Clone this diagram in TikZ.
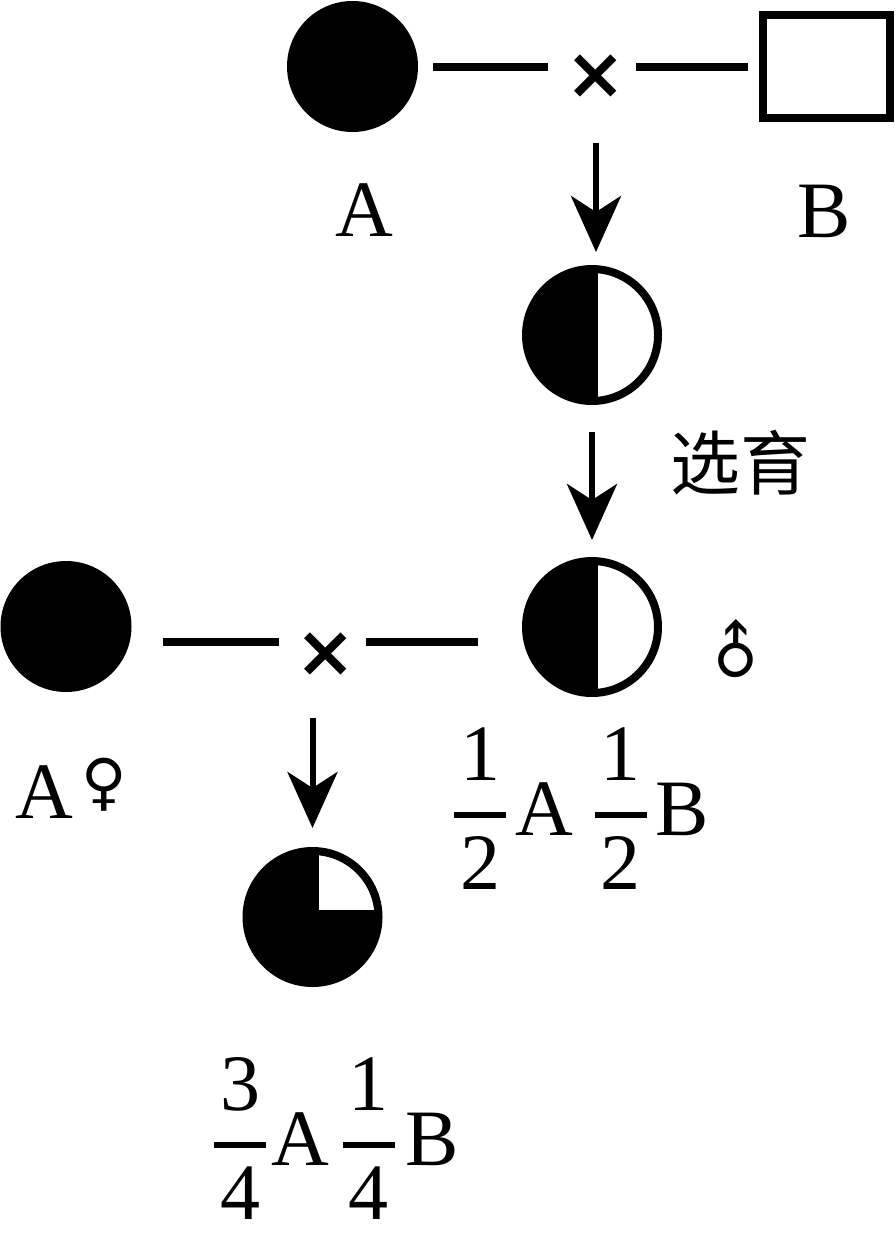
\RequirePackage{fix-cm}
\documentclass[tikz,border=0pt]{standalone}
\usepackage{amsmath}
\usepackage{fontspec}
\setmainfont{Liberation Serif}
\newfontfamily\cjkfont{Noto Sans CJK SC}
\newfontfamily\symfont{DejaVu Sans}
\usetikzlibrary{arrows.meta, positioning}

\newcommand{\fr}[2]{$\genfrac{}{}{5.5pt}{0}{\hbox to 52pt{\hss#1\hss}}{\hbox to 52pt{\hss#2\hss}}$}

\begin{document}
\begin{tikzpicture}[x=1pt, y=-1pt]
	% Define styles
	\tikzset{
		full/.style={circle, fill, minimum size=131pt, inner sep=0pt},
		half/.style={circle, draw, line width=8pt, minimum size=132pt, inner sep=0pt,
			path picture={\fill ([xshift=6pt]path picture bounding box.north) rectangle (path picture bounding box.south west);}},
		quarter/.style={circle, draw, fill, line width=8pt, minimum size=132pt, inner sep=0pt,
			path picture={\fill[white] ([xshift=6pt, yshift=7pt]path picture bounding box.center) rectangle (path picture bounding box.north east);}},
		box/.style={rectangle, draw, line width=8pt, minimum width=127pt, minimum height=103pt, inner sep=0pt},
		cross/.style={font={\symfont\bfseries\fontsize{72}{86}\selectfont}, minimum width=80pt, inner sep=0pt},
		sex/.style={font={\symfont\fontsize{62}{74}\selectfont}, inner sep=0pt},
		lab/.style={anchor=base, inner sep=0pt, font={\fontsize{80}{96}\selectfont}},
		pedline/.style={line width=8pt},
		down/.style={line width=6pt, -{Stealth[length=56pt, width=50pt, inset=16pt]}}
	}
	\useasboundingbox (0,0) rectangle (895,1242);
	
	% Parents
	\node[full] (pA) at (352.5,66.5) {};
	\node[cross] (x1) at (596,77) {×};
	\node[box] (pB) at (826.5,66.5) {};
	\node[lab] (lA) at (364,236) {A};
	\node[lab] (lB) at (824,237) {B};
	
	% F1 and selection
	\node[half] (f1) at (592,335) {};
	\node[font={\cjkfont\fontsize{70}{84}\selectfont}, inner sep=0pt] (sel) at (740,463) {选育};
	\node[half] (f1s) at (592,627) {};
	\node[sex, rotate=45] (male) at (736,652) {♂};
	
	% Backcross
	\node[full] (pA2) at (66,626.5) {};
	\node[cross] (x2) at (326,655) {×};
	\node[lab, anchor=base west] (lA2) at (15,818) {A};
	\node[sex] (fem) at (104,785) {♀};
	\node[lab, anchor=base west] (r1) at (453,835) {\fr{1}{2}\kern8pt A\kern20pt\fr{1}{2}\kern8pt B};
	\node[quarter] (f2) at (312.5,917) {};
	\node[lab, anchor=base west] (r2) at (213,1165) {\fr{3}{4}\kern4pt A\kern12pt\fr{1}{4}\kern10pt B};
	
	% Lines
	\draw[pedline, shorten <=15pt, shorten >=8pt] (pA.east) -- (pA.east -| x1.west);
	\draw[pedline, shorten >=11pt] (x1.east |- pB.west) -- (pB.west);
	\coordinate (m) at ([yshift=-15.5pt]pA2.east);
	\draw[pedline, shorten <=31pt, shorten >=7pt] (m) -- (m -| x2.west);
	\draw[pedline, shorten >=44pt] (x2.east |- m) -- (m -| f1s.west);
	
	% Arrows
	\draw[down, shorten <=66pt, shorten >=13pt] (x1.center) -- (x1.center |- f1.north);
	\draw[down, shorten <=27pt, shorten >=17pt] (f1) -- (f1s);
	\draw[down, shorten <=63pt, shorten >=19pt] (f2.north |- x2) -- (f2.north);
\end{tikzpicture}
\end{document}
